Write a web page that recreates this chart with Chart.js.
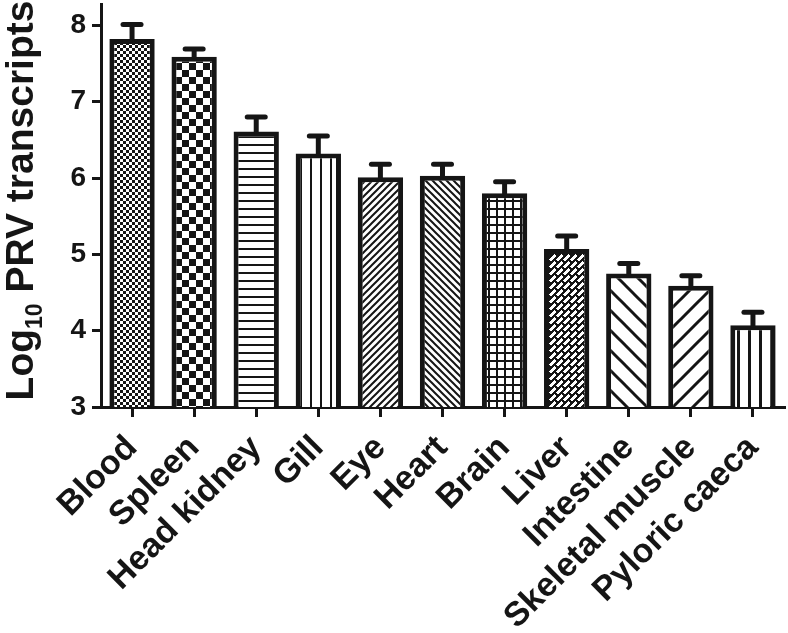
<!DOCTYPE html>
<html>
<head>
<meta charset="utf-8">
<title>PRV transcripts by tissue</title>
<script src="https://cdn.jsdelivr.net/npm/chart.js@4.4.1/dist/chart.umd.min.js"></script>
<style>
  html, body { margin: 0; padding: 0; background: #fff; }
</style>
</head>
<body>
<canvas id="tissue-chart" width="788" height="633"></canvas>
<script>
const tissues = ['Blood', 'Spleen', 'Head kidney', 'Gill', 'Eye', 'Heart', 'Brain', 'Liver', 'Intestine', 'Skeletal muscle', 'Pyloric caeca'];
const logTranscripts = [7.82, 7.59, 6.61, 6.32, 6.01, 6.03, 5.80, 5.07, 4.75, 4.59, 4.07];
const sem = [0.19, 0.10, 0.19, 0.23, 0.17, 0.15, 0.15, 0.17, 0.13, 0.13, 0.17];
const yTicks = [3, 4, 5, 6, 7, 8];

const ink = '#151515';
const font = 'Liberation Sans, Arial, sans-serif';

// little tile canvases turned into fill patterns, one per tissue
const tile = (w, h, draw) => {
    const c = document.createElement('canvas');
    c.width = w; c.height = h;
    const g = c.getContext('2d');
    g.fillStyle = '#fff';
    g.fillRect(0, 0, w, h);
    g.fillStyle = ink;
    g.strokeStyle = ink;
    draw(g, w, h);
    return c.getContext('2d').createPattern(c, 'repeat');
};

const checker = (s) => tile(s * 2, s * 2, (g) => {
    g.fillRect(0, 0, s, s);
    g.fillRect(s, s, s, s);
});

const diag = (s, lw, up) => tile(s, s, (g) => {
    g.lineWidth = lw;
    g.lineCap = 'square';
    const seg = (x1, y1, x2, y2) => { g.beginPath(); g.moveTo(x1, y1); g.lineTo(x2, y2); g.stroke(); };
    for (let k = -1; k <= 1; k++) {
        if (up) seg(k * s, s, k * s + s, 0);
        else seg(k * s, 0, k * s + s, s);
    }
});

// woven bricks for liver
const brick = (n, cut) => tile(n * 2, n * 2, (g) => {
    const size = n * 2;
    const img = g.getImageData(0, 0, size, size);
    for (let y = 0; y < size; y++) {
        for (let x = 0; x < size; x++) {
            const u = (x + y) % n;
            const b = Math.floor((x + y) / n) % 2;
            const v = ((x - y + b * n) % size + size) % size;
            if (u < cut || v < cut) {
                const i = (y * size + x) * 4;
                img.data[i] = img.data[i + 1] = img.data[i + 2] = 21;
            }
        }
    }
    g.putImageData(img, 0, 0);
});

const fills = [
    checker(3),
    checker(7),
    tile(8, 8, (g) => g.fillRect(0, 0, 8, 2)),
    tile(10, 10, (g) => g.fillRect(0, 0, 2, 10)),
    diag(7, 2, true),
    diag(7, 2, false),
    tile(8, 8, (g) => { g.fillRect(0, 0, 8, 2); g.fillRect(0, 0, 2, 8); }),
    brick(7, 3),
    diag(20, 3, false),
    diag(20, 3, true),
    tile(11, 11, (g) => g.fillRect(0, 0, 3, 11)),
];

const errorBars = {
    id: 'errorBars',
    afterDatasetsDraw(chart) {
        const c = chart.ctx;
        const y = chart.scales.y;
        c.save();
        c.strokeStyle = ink;
        c.lineWidth = 5;
        chart.getDatasetMeta(0).data.forEach((bar, i) => {
            const top = y.getPixelForValue(logTranscripts[i] + sem[i]);
            c.lineCap = 'butt';
            c.beginPath();
            c.moveTo(bar.x, bar.y + 2);
            c.lineTo(bar.x, top);
            c.stroke();
            c.lineCap = 'round';
            c.beginPath();
            c.moveTo(bar.x - 9, top);
            c.lineTo(bar.x + 9, top);
            c.stroke();
        });
        c.restore();
    }
};

// y title with a real subscript, which the built-in title can't do
const yTitle = {
    id: 'yTitle',
    afterDraw(chart) {
        const c = chart.ctx;
        const area = chart.chartArea;
        const big = 'bold 39px ' + font;
        const small = 'bold 23px ' + font;
        const parts = [['Log', big, 0], ['10', small, 9], [' PRV transcripts', big, 0]];
        let total = 0;
        parts.forEach(p => { c.font = p[1]; total += c.measureText(p[0]).width; });
        c.save();
        c.translate(33, (area.top + area.bottom) / 2 - 5);
        c.rotate(-Math.PI / 2);
        c.fillStyle = ink;
        c.textBaseline = 'alphabetic';
        c.textAlign = 'left';
        let x = -total / 2;
        parts.forEach(p => {
            c.font = p[1];
            c.fillText(p[0], x, p[2]);
            x += c.measureText(p[0]).width;
        });
        c.restore();
    }
};

const axisGrid = { display: true, drawOnChartArea: false, offset: false, tickLength: 9, lineWidth: 3, color: ink };
const axisBorder = { display: true, width: 3, color: ink };

new Chart(document.getElementById('tissue-chart'), {
    type: 'bar',
    data: {
        labels: tissues,
        datasets: [{
            data: logTranscripts,
            backgroundColor: fills,
            borderColor: ink,
            borderWidth: 5,
            borderSkipped: false,
            categoryPercentage: 1,
            barPercentage: 0.73,
        }],
    },
    options: {
        responsive: false,
        animation: false,
        layout: { padding: { top: 4, right: 4, left: 0, bottom: 0 } },
        plugins: {
            legend: { display: false },
            tooltip: { enabled: false },
        },
        scales: {
            x: {
                offset: true,
                grid: { ...axisGrid, tickLength: 10 },
                border: axisBorder,
                ticks: {
                    autoSkip: false,
                    minRotation: 45,
                    maxRotation: 45,
                    padding: 11,
                    color: ink,
                    font: { family: font, size: 34, weight: 'bold' },
                },
                afterFit(s) {
                    s.height = 226;
                    s.paddingLeft = 0;
                    s.paddingRight = 0;
                },
            },
            y: {
                min: 3,
                max: 8.28,
                afterBuildTicks(s) { s.ticks = yTicks.map(v => ({ value: v })); },
                grid: axisGrid,
                border: axisBorder,
                ticks: {
                    padding: 6,
                    color: ink,
                    font: { family: font, size: 28, weight: 'bold' },
                },
                afterFit(s) {
                    s.width = 101;
                    s.paddingTop = 0;
                    s.paddingBottom = 0;
                },
            },
        },
    },
    plugins: [errorBars, yTitle],
});
</script>
</body>
</html>
